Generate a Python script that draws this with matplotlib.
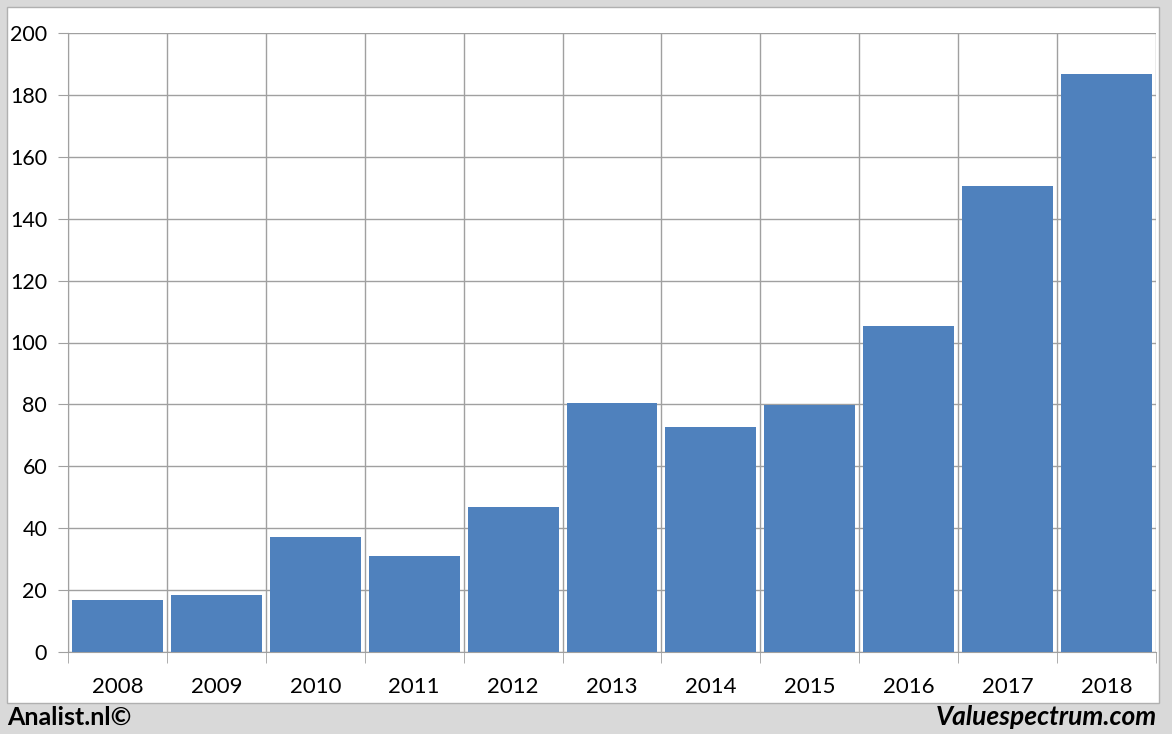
import matplotlib
matplotlib.use("Agg")
import matplotlib.pyplot as plt
from matplotlib.patches import Rectangle

years = ["2008", "2009", "2010", "2011", "2012", "2013", "2014", "2015", "2016", "2017", "2018"]
values = [16.8, 18.4, 37.2, 31.0, 46.9, 80.5, 72.7, 79.8, 105.3, 150.6, 186.8]
yticks = [0, 20, 40, 60, 80, 100, 120, 140, 160, 180, 200]

W, H = 1172, 734
fig = plt.figure(figsize=(W / 100, H / 100), dpi=100)
fig.patch.set_facecolor("#d9d9d9")
# white panel
fig.add_artist(Rectangle((7 / W, 1 - 703 / H), (1159 - 7) / W, (703 - 7) / H,
                         transform=fig.transFigure, facecolor="white",
                         edgecolor="#b0b0b0", linewidth=1, zorder=0))

ax = fig.add_axes([68 / W, 1 - 652 / H, (1156 - 68) / W, (652 - 33) / H])
ax.set_facecolor("none")
x = list(range(len(years)))
ax.bar(x, values, width=0.92, color="#4f81bd", zorder=3)
ax.set_xlim(-0.5, len(years) - 0.5)
ax.set_ylim(0, 200)
ax.set_yticks(yticks)
ax.set_yticklabels([str(v) for v in yticks])
ax.set_xticks(x)
ax.set_xticklabels(years)
ax.set_xticks([i - 0.5 for i in range(len(years) + 1)], minor=True)
ax.grid(axis="y", color="#a0a0a0", linewidth=1, zorder=1)
ax.grid(axis="x", which="minor", color="#a0a0a0", linewidth=1, zorder=1)
ax.tick_params(axis="x", which="major", length=0, pad=18, labelsize=16)
ax.tick_params(axis="x", which="minor", length=8, color="#a0a0a0")
ax.tick_params(axis="y", length=7, color="#a0a0a0", pad=8, labelsize=15.5)
for lbl in ax.get_xticklabels() + ax.get_yticklabels():
    lbl.set_fontfamily(["Lato", "DejaVu Sans"])
for s in ["top", "right"]:
    ax.spines[s].set_visible(False)
ax.spines["left"].set_color("#a0a0a0")
ax.spines["bottom"].set_color("#a0a0a0")

fig.text(7 / W, 1 - 717 / H, "Analist.nl©", fontsize=18, fontweight="bold",
         family=["Lato", "DejaVu Sans"], ha="left", va="center")
fig.text(1157 / W, 1 - 717 / H, "Valuespectrum.com", fontsize=19, fontweight="bold",
         fontstyle="italic", family=["Lato", "DejaVu Sans"], ha="right", va="center")

fig.savefig("out.png", dpi=100, facecolor=fig.get_facecolor())
